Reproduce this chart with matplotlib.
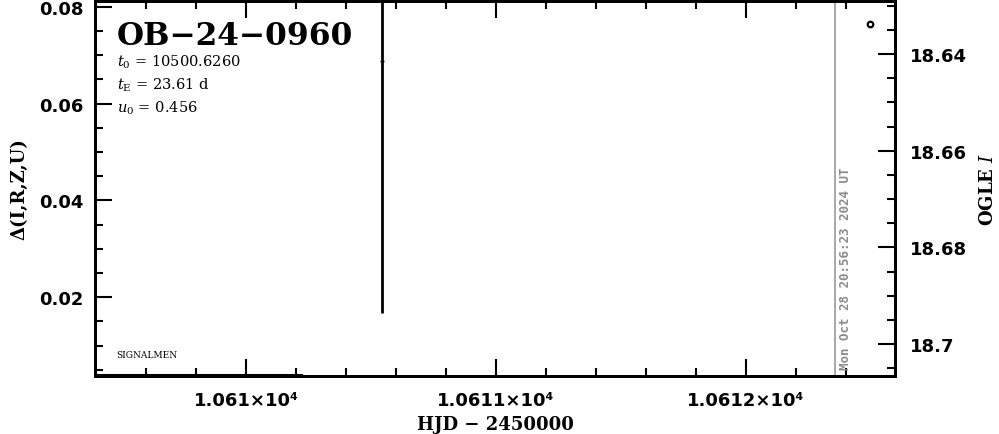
import matplotlib; matplotlib.use('Agg')
import matplotlib.pyplot as plt
from matplotlib.ticker import MultipleLocator, FuncFormatter, FormatStrFormatter

# data
event = 'OB\u221224\u22120960'
params = [r'$t_0$ = 10500.6260', r'$t_{\rm E}$ = 23.61 d', r'$u_0$ = 0.456']
stamp = 'Mon Oct 28 20:56:23 2024 UT'

delta_hjd = [10610.543]
delta_val = [0.0687]
delta_err = [0.052]

base_hjd = [10609.396, 10610.22]
base_val = [0.0040, 0.0040]

ogle_hjd = [10612.496]
ogle_mag = [18.6338]

now_hjd = 10612.356
XLIM = (10609.396, 10612.596)
YLIM = (0.0037, 0.0812)
MLIM = (18.7066, 18.629)

plt.rcParams['mathtext.fontset'] = 'dejavuserif'
fig = plt.figure(figsize=(9.99, 4.35), dpi=100)
ax = fig.add_axes([95/999, 1-377/435, 800/999, 375/435])
ax2 = ax.twinx()

ax.errorbar(delta_hjd, delta_val, yerr=delta_err, fmt='_', color='k', ms=3,
            elinewidth=2, capsize=0)
ax.plot(base_hjd, base_val, color='k', lw=2.2)
ax.axvline(now_hjd, color='#999999', lw=1.2)
ax2.plot(ogle_hjd, ogle_mag, 'o', mfc='none', mec='k', ms=4, mew=1.6)

ax.set_xlim(*XLIM); ax.set_ylim(*YLIM)
ax2.set_ylim(*MLIM)

ax.xaxis.set_major_locator(MultipleLocator(1))
ax.xaxis.set_minor_locator(MultipleLocator(0.2))
ax.xaxis.set_major_formatter(FuncFormatter(lambda v, p: f'{v/1e4:g}\u00d710\u2074'))
ax.yaxis.set_major_locator(MultipleLocator(0.02))
ax.yaxis.set_minor_locator(MultipleLocator(0.005))
ax.yaxis.set_major_formatter(FormatStrFormatter('%g'))
ax2.yaxis.set_major_locator(MultipleLocator(0.02))
ax2.yaxis.set_minor_locator(MultipleLocator(0.005))
ax2.yaxis.set_major_formatter(FormatStrFormatter('%g'))

tfont = dict(family='DejaVu Sans', weight='bold', size=13)
ax.tick_params(which='both', direction='in', top=True, right=False, width=1.5)
ax.tick_params(which='major', length=12)
ax.tick_params(axis='x', which='major', pad=11)
ax.tick_params(axis='y', which='major', pad=8)
ax.tick_params(which='minor', length=6)
ax2.tick_params(which='both', direction='in', width=1.5)
ax2.tick_params(which='major', length=12, pad=11)
ax2.tick_params(which='minor', length=6)
for lab in ax.get_xticklabels() + ax.get_yticklabels() + ax2.get_yticklabels():
    lab.set_fontproperties(matplotlib.font_manager.FontProperties(**tfont))
for a in (ax, ax2):
    for s in a.spines.values():
        s.set_linewidth(2)

lfont = dict(family='DejaVu Serif', weight='bold', size=13)
ax.set_xlabel('HJD \u2212 2450000', labelpad=4, **lfont)
ax.set_ylabel('\u0394(I,R,Z,U)', labelpad=8, **lfont)
ax2.set_ylabel(r'OGLE $\it{I}$', labelpad=8, **lfont)

ax.text(0.027, 0.886, event, transform=ax.transAxes, ha='left', va='baseline',
        family='DejaVu Serif', weight='bold', size=22.5)
for i, p in enumerate(params):
    ax.text(0.027, 0.838 - i*0.061, p, transform=ax.transAxes, ha='left',
            va='center', family='DejaVu Serif', size=10.5)
ax.text(0.027, 0.058, 'SIGNALMEN', transform=ax.transAxes, ha='left',
        va='center', family='DejaVu Serif', size=6.5)
ax.text(now_hjd + 0.04, 0.02, stamp, transform=ax.get_xaxis_transform(),
        rotation=90, ha='center', va='bottom', color='#8c8c8c',
        family='DejaVu Sans Mono', weight='bold', size=9)

fig.savefig('out.png', dpi=100)
